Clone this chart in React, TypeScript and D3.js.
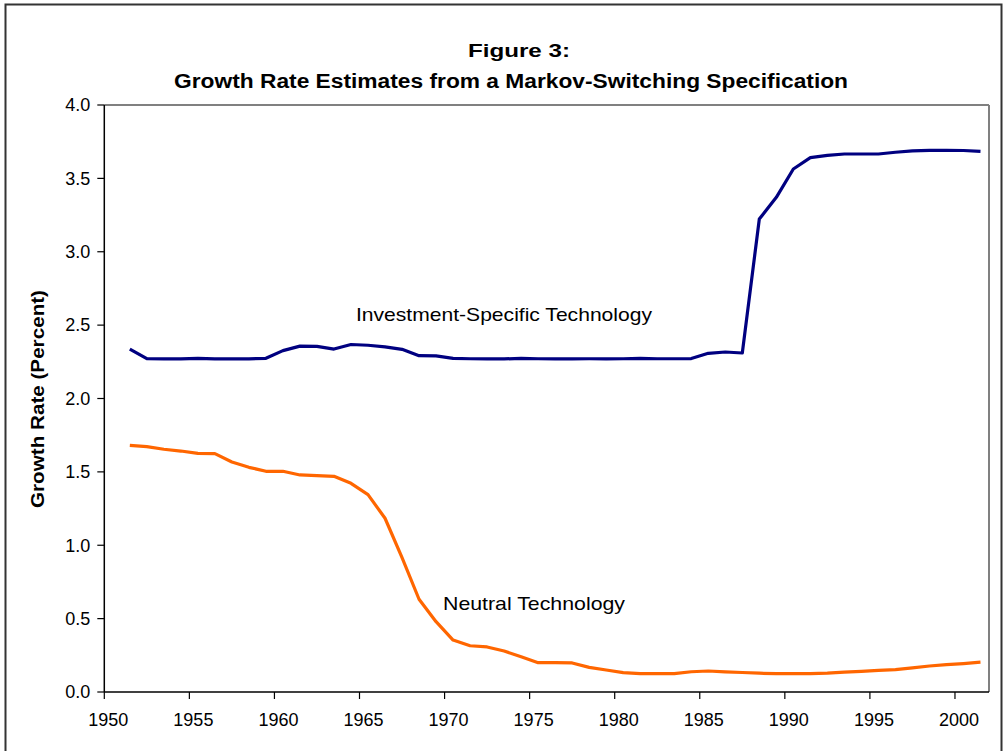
import React from "react";
import * as d3 from "d3";

const years: number[] = d3.range(1951, 2002);

const investmentSpecific: number[] = [
  2.337, 2.271, 2.270, 2.270, 2.273, 2.270, 2.270, 2.270, 2.274, 2.326,
  2.357, 2.355, 2.337, 2.368, 2.363, 2.352, 2.335, 2.292, 2.290, 2.273,
  2.271, 2.270, 2.270, 2.273, 2.271, 2.270, 2.270, 2.271, 2.270, 2.271,
  2.273, 2.271, 2.271, 2.272, 2.308, 2.317, 2.310, 3.223, 3.371, 3.564,
  3.641, 3.657, 3.666, 3.666, 3.666, 3.678, 3.687, 3.691, 3.691, 3.690,
  3.684,
];

const neutral: number[] = [
  1.681, 1.672, 1.654, 1.642, 1.626, 1.624, 1.567, 1.531, 1.504, 1.504,
  1.479, 1.474, 1.470, 1.422, 1.345, 1.184, 0.915, 0.632, 0.479, 0.354,
  0.315, 0.307, 0.279, 0.240, 0.200, 0.200, 0.198, 0.168, 0.150, 0.132,
  0.125, 0.125, 0.125, 0.138, 0.143, 0.137, 0.133, 0.128, 0.125, 0.125,
  0.125, 0.128, 0.135, 0.140, 0.147, 0.153, 0.165, 0.177, 0.187, 0.194,
  0.203,
];

const xTicks: number[] = d3.range(1950, 2001, 5);
const yTicks: number[] = d3.range(0, 4.01, 0.5);

const titleLine1 = "Figure 3:";
const titleLine2 = "Growth Rate Estimates from a Markov-Switching Specification";
const yAxisTitle = "Growth Rate (Percent)";
const seriesLabels = ["Investment-Specific Technology", "Neutral Technology"];

const W = 1006;
const H = 751;
const plot = { left: 104.3, right: 989, top: 105, bottom: 692 };
const FONT = "'Liberation Sans', Arial, sans-serif";

export default function App() {
  const x = d3.scaleLinear().domain([1950, 2002]).range([plot.left, plot.right]);
  const y = d3.scaleLinear().domain([0, 4]).range([plot.bottom, plot.top]);

  const line = d3
    .line<number>()
    .x((_, i) => x(years[i] + 0.5))
    .y((d) => y(d));

  return (
    <svg
      width={W}
      height={H}
      style={{ position: "absolute", left: 0, top: 0, background: "#fff" }}
      fontFamily={FONT}
    >
      <rect x={0} y={0} width={W} height={H} fill="#fff" />
      {/* outer border */}
      <rect x={5.5} y={4.5} width={996} height={770} fill="none" stroke="#333" strokeWidth={2} />

      {/* titles */}
      <text x={519} y={57} textAnchor="middle" fontSize={19} fontWeight="bold" fill="#000"
        textLength={102} lengthAdjust="spacingAndGlyphs">
        {titleLine1}
      </text>
      <text x={511} y={88} textAnchor="middle" fontSize={20} fontWeight="bold" fill="#000"
        textLength={674} lengthAdjust="spacingAndGlyphs">
        {titleLine2}
      </text>

      {/* plot frame: top & right gray */}
      <line x1={plot.left} x2={plot.right} y1={plot.top} y2={plot.top} stroke="#808080" strokeWidth={2} />
      <line x1={plot.right} x2={plot.right} y1={plot.top} y2={plot.bottom} stroke="#808080" strokeWidth={2} />

      {/* y axis */}
      <line x1={plot.left} x2={plot.left} y1={plot.top} y2={plot.bottom} stroke="#000" strokeWidth={1.5} />
      {yTicks.map((t) => (
        <g key={"y" + t}>
          <line x1={plot.left - 7} x2={plot.left} y1={y(t)} y2={y(t)} stroke="#000" strokeWidth={1.2} />
          <text x={plot.left - 14} y={y(t)} dy="0.35em" textAnchor="end" fontSize={18} fill="#000">
            {t.toFixed(1)}
          </text>
        </g>
      ))}

      {/* x axis */}
      <line x1={plot.left} x2={plot.right} y1={plot.bottom} y2={plot.bottom} stroke="#000" strokeWidth={1.5} />
      {xTicks.map((t) => (
        <g key={"x" + t}>
          <line x1={x(t)} x2={x(t)} y1={plot.bottom} y2={plot.bottom + 7} stroke="#000" strokeWidth={1.2} />
          <text x={x(t) + 4} y={720} dy="0.35em" textAnchor="middle" fontSize={18} fill="#000">
            {t}
          </text>
        </g>
      ))}

      {/* y axis title */}
      <text
        transform={`translate(44,399) rotate(-90)`}
        textAnchor="middle"
        fontSize={19}
        fontWeight="bold"
        fill="#000"
        textLength={218}
        lengthAdjust="spacingAndGlyphs"
      >
        {yAxisTitle}
      </text>

      {/* series */}
      <path d={line(investmentSpecific) || ""} fill="none" stroke="#000080" strokeWidth={3.2} strokeLinejoin="round" />
      <path d={line(neutral) || ""} fill="none" stroke="#FF6600" strokeWidth={3.2} strokeLinejoin="round" />

      {/* series labels */}
      <text x={356} y={314} dy="0.35em" fontSize={19} fill="#000" textLength={296} lengthAdjust="spacingAndGlyphs">
        {seriesLabels[0]}
      </text>
      <text x={443} y={603} dy="0.35em" fontSize={19} fill="#000" textLength={182} lengthAdjust="spacingAndGlyphs">
        {seriesLabels[1]}
      </text>
    </svg>
  );
}
